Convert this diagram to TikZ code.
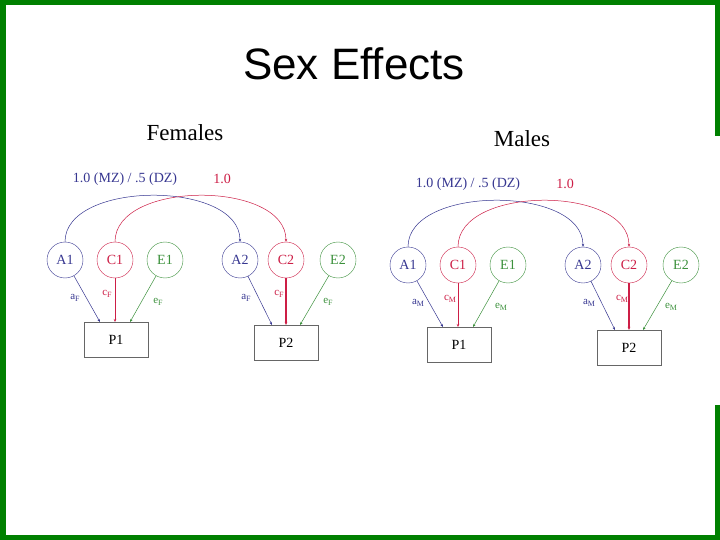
\documentclass[tikz,border=0pt]{standalone}
\usepackage{fontspec}
\usetikzlibrary{arrows.meta}
\setmainfont{Liberation Serif}
\newfontfamily\titlefont{Liberation Sans}
\definecolor{fgreen}{RGB}{0,128,0}
\definecolor{pblue}{RGB}{55,55,145}
\definecolor{pred}{RGB}{205,30,70}
\definecolor{pgreen}{RGB}{60,145,60}
\newcommand\sub[1]{{\fontsize{8}{8}\selectfont\raisebox{-2.5pt}{#1}}}
\newcommand\panel[3]{%
\begin{scope}[shift={#2}]
 \node[lat,pblue] (#1A1) at (65,260) {A1};
 \node[lat,pred] (#1C1) at (115,260) {C1};
 \node[lat,pgreen] (#1E1) at (165,260) {E1};
 \node[lat,pblue] (#1A2) at (240,260) {A2};
 \node[lat,pred] (#1C2) at (286,260) {C2};
 \node[lat,pgreen] (#1E2) at (338,260) {E2};
 \node[obs] (#1P1) at (116,340) {P1};
 \node[obs] (#1P2) at (286,343) {P2};
 \coordinate (#1a1) at (100,322); \coordinate (#1c1) at (115,322); \coordinate (#1e1) at (130,322);
 \coordinate (#1a2) at (272,325); \coordinate (#1c2) at (286,325); \coordinate (#1e2) at (300,325);
 \draw[pth,pblue] (#1A1) -- (#1a1);
 \draw[pth,pred] (#1C1.south) -- (#1c1);
 \draw[pth,pgreen] (#1E1) -- (#1e1);
 \draw[pth,pblue] (#1A2) -- (#1a2);
 \draw[pth,pred,line width=1.2pt] (#1C2.south) -- (#1c2);
 \draw[pth,pgreen] (#1E2) -- (#1e2);
 \draw[pth,pblue] (#1A1.north) .. controls (65,180) and (240,180) .. (#1A2.north);
 \draw[pth,pred] (#1C1.north) .. controls (115,180) and (286,180) .. (#1C2.north);
 \node[lbl,pblue] (#1lA) at (125,179) {1.0 (MZ) / .5 (DZ)};
 \node[lbl,pred] (#1lC) at (222,179) {1.0};
 \node[plbl,pblue] (#1pa1) at (75,298) {a\sub{#3}};
 \node[plbl,pred] (#1pc1) at (107,294) {c\sub{#3}};
 \node[plbl,pgreen] (#1pe1) at (158,302) {e\sub{#3}};
 \node[plbl,pblue] (#1pa2) at (246,298) {a\sub{#3}};
 \node[plbl,pred] (#1pc2) at (279,294) {c\sub{#3}};
 \node[plbl,pgreen] (#1pe2) at (328,302) {e\sub{#3}};
\end{scope}}
\begin{document}
\begin{tikzpicture}[x=1pt,y=-1pt,
 lat/.style={circle,draw,minimum size=36pt,inner sep=0pt,font=\fontsize{14}{14}\selectfont},
 obs/.style={draw=gray!80!black,minimum width=64pt,minimum height=35pt,inner sep=0pt,font=\fontsize{14}{14}\selectfont},
 pth/.style={line width=0.5pt,-{Stealth[length=3pt,width=2.5pt]}},
 lbl/.style={inner sep=0pt,font=\fontsize{14}{14}\selectfont},
 plbl/.style={inner sep=0pt,font=\fontsize{11}{11}\selectfont},
 bar/.style={fill=fgreen,draw=none}]
\useasboundingbox (0,0) rectangle (720,540);
\fill[white] (0,0) rectangle (720,540);
\fill[bar] (0,0) rectangle (720,5);
\fill[bar] (0,0) rectangle (6,540);
\fill[bar] (0,535) rectangle (720,540);
\fill[bar] (715,0) rectangle (720,136);
\fill[bar] (715,405) rectangle (720,540);
\node[font=\titlefont\fontsize{44}{44}\selectfont] (title) at (354,64) {Sex Effects};
\node[font=\fontsize{23}{23}\selectfont] (fem) at (185,133) {Females};
\node[font=\fontsize{23}{23}\selectfont] (mal) at (522,139) {Males};
\panel{f}{(0,0)}{F}
\panel{m}{(343,5)}{M}
\end{tikzpicture}
\end{document}
